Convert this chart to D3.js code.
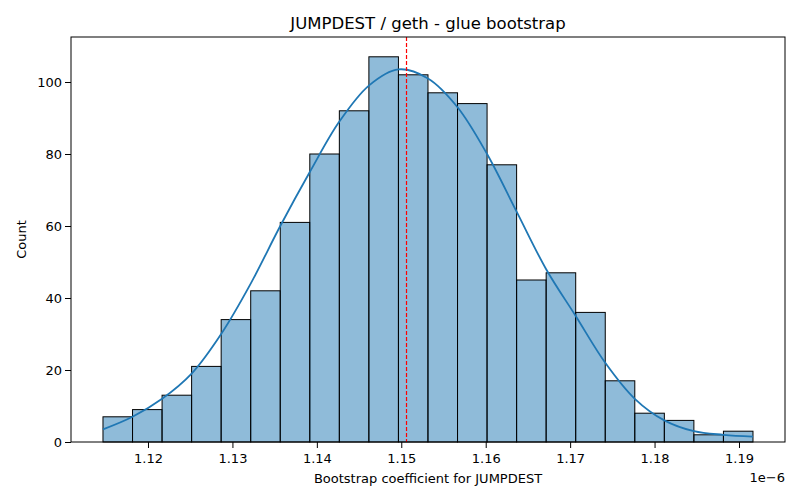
<!DOCTYPE html>
<html><head><meta charset="utf-8">
<script src="https://cdn.jsdelivr.net/npm/d3@7"></script>
<style>body{margin:0;background:#fff}text{font-family:"DejaVu Sans",sans-serif}</style>
</head><body><svg id="c" width="800" height="500"></svg>
<script>
const binStart = 1.114668, binWidth = 0.0034995;
const counts = [7,9,13,21,34,42,61,80,92,107,102,97,94,77,45,47,36,17,8,6,2,3];
const kdeY = [3.5,7,12,19,30,44,60,75,89,99,103.5,101,93,80,64,48,35,22,12,6,3,2,1.5];
const meanLine = 1.15062;
const xTicks = [1.12,1.13,1.14,1.15,1.16,1.17,1.18,1.19];
const yTicks = [0,20,40,60,80,100];

const svg = d3.select("#c");
const L=71,R=785,T=37,B=442;
const x = d3.scaleLinear().domain([1.11088,1.19545]).range([L,R]);
const y = d3.scaleLinear().domain([0,112.5]).range([B,T]);

svg.append("g").selectAll("rect").data(counts).join("rect")
  .attr("x",(d,i)=>x(binStart+i*binWidth)).attr("width",(d,i)=>x(binStart+(i+1)*binWidth)-x(binStart+i*binWidth))
  .attr("y",d=>y(d)).attr("height",d=>B-y(d))
  .attr("fill","rgba(31,119,180,0.5)").attr("stroke","#000").attr("stroke-width",1);

svg.append("path").datum(kdeY).attr("fill","none").attr("stroke","#1f77b4").attr("stroke-width",1.8)
  .attr("d",d3.line().x((d,i)=>x(binStart+i*binWidth)).y(d=>y(d)).curve(d3.curveCatmullRom));

svg.append("line").attr("x1",x(meanLine)).attr("x2",x(meanLine)).attr("y1",T).attr("y2",B)
  .attr("stroke","red").attr("stroke-width",1.2).attr("stroke-dasharray","4,2");

const xa = svg.append("g").attr("transform",`translate(0,${B})`)
  .call(d3.axisBottom(x).tickValues(xTicks).tickFormat(d3.format(".2f")).tickSizeOuter(0));
const ya = svg.append("g").attr("transform",`translate(${L},0)`)
  .call(d3.axisLeft(y).tickValues(yTicks).tickSizeOuter(0));
[xa,ya].forEach(a=>{a.select(".domain").remove();a.selectAll("text").attr("font-size",13).attr("fill","#000").attr("font-family","DejaVu Sans");a.selectAll("line").attr("stroke","#000");});
xa.selectAll("text").attr("dy","0.9em");
svg.append("rect").attr("x",L).attr("y",T).attr("width",R-L).attr("height",B-T).attr("fill","none").attr("stroke","#000");

svg.append("text").attr("x",(L+R)/2).attr("y",29).attr("text-anchor","middle").attr("font-size",16.5).text("JUMPDEST / geth - glue bootstrap");
svg.append("text").attr("x",(L+R)/2).attr("y",483).attr("text-anchor","middle").attr("font-size",13).text("Bootstrap coefficient for JUMPDEST");
svg.append("text").attr("transform",`translate(26,${(T+B)/2}) rotate(-90)`).attr("text-anchor","middle").attr("font-size",13).text("Count");
svg.append("text").attr("x",785).attr("y",482).attr("text-anchor","end").attr("font-size",13).text("1e\u22126");
</script></body></html>
